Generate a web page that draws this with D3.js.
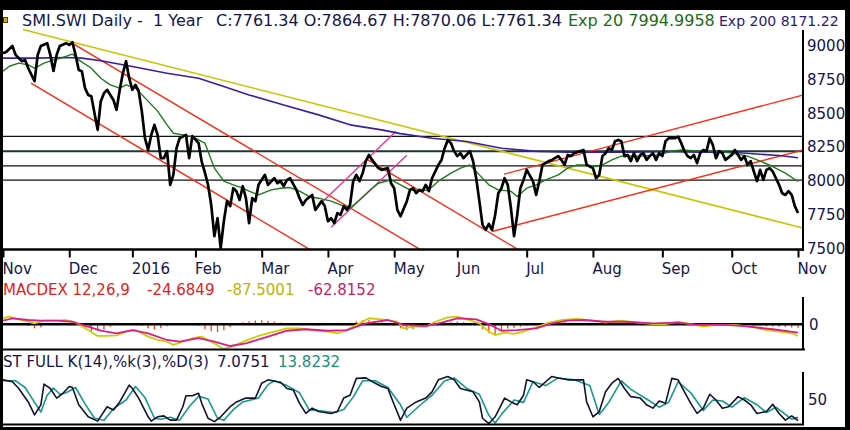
<!DOCTYPE html>
<html>
<head>
<meta charset="utf-8">
<script src="https://cdn.jsdelivr.net/npm/d3@7"></script>
<style>
  html, body { margin: 0; padding: 0; background: #000; }
  svg { display: block; font-family: "DejaVu Sans", sans-serif; }
  text { white-space: pre; }
</style>
</head>
<body>
<svg id="chart" width="850" height="430"></svg>
<script>
// ----- DATA -----
// SIX holidays in the period (weekdays with no session)
const holidays = ["2015-12-24", "2015-12-25", "2015-12-31", "2016-01-01", "2016-03-25",
  "2016-03-28", "2016-05-05", "2016-05-16", "2016-08-01"];
const monthLabels = ["Nov", "Dec", "2016", "Feb", "Mar", "Apr", "May", "Jun", "Jul", "Aug", "Sep", "Oct", "Nov"];
const priceTicks = [7500, 7750, 8000, 8250, 8500, 8750, 9000];
const levels = [8330, 8220, 8110, 8005];

// [session number, value]  (session 0 = 2 Nov 2015)
const close = [[0,8947],[1,8955],[3,9000],[4,8934],[6,8887],[7,8897],[8,8835],[10,8739],[11,8934],[12,9000],[14,9021],[15,8934],[16,8815],[17,8934],[18,9000],[20,9021],[21,9008],[22,9028],[23,8934],[24,8822],[25,8813],[26,8687],[27,8637],[28,8628],[29,8502],[30,8378],[31,8591],[32,8650],[33,8675],[35,8600],[36,8526],[37,8675],[38,8798],[39,8887],[40,8761],[41,8675],[42,8712],[43,8665],[44,8517],[45,8316],[46,8229],[47,8341],[48,8415],[49,8341],[50,8168],[51,8168],[52,8220],[53,7970],[54,8044],[55,8242],[56,8316],[58,8341],[59,8168],[60,8331],[62,8279],[63,8140],[64,8060],[65,7970],[66,7821],[67,7589],[68,7723],[69,7500],[70,7700],[71,7849],[72,7812],[73,7945],[74,7923],[75,7858],[76,7960],[77,7871],[78,7686],[79,7871],[80,7849],[81,7970],[83,8044],[84,7970],[86,8019],[87,7982],[88,7997],[89,7960],[90,8007],[91,8019],[93,7933],[94,7871],[95,7821],[96,7858],[98,7895],[99,7784],[101,7849],[102,7812],[103,7700],[104,7723],[105,7686],[106,7760],[107,7747],[108,7812],[109,7784],[110,7821],[111,7997],[112,8044],[113,7997],[114,8057],[115,8146],[116,8192],[117,8155],[119,8094],[120,8081],[122,8094],[123,7982],[124,7945],[125,7784],[126,7737],[128,7849],[129,7933],[130,7945],[131,7908],[132,7933],[133,7923],[134,7970],[135,7923],[136,8019],[138,8118],[139,8155],[140,8242],[141,8303],[142,8279],[143,8220],[144,8183],[145,8205],[146,8168],[148,8220],[149,8146],[150,8019],[151,7849],[152,7673],[153,7636],[154,7680],[155,7636],[156,7747],[157,7908],[158,7945],[159,8019],[160,7970],[161,7797],[162,7589],[163,7747],[164,7945],[165,8007],[166,8081],[168,7997],[169,7895],[170,7997],[171,8118],[173,8146],[174,8155],[176,8183],[177,8155],[178,8118],[179,8192],[180,8183],[181,8205],[183,8220],[184,8229],[185,8118],[187,8094],[188,8019],[189,8044],[190,8183],[191,8205],[192,8242],[193,8229],[194,8294],[195,8303],[196,8294],[197,8183],[198,8192],[199,8146],[200,8205],[201,8146],[202,8192],[203,8205],[204,8155],[205,8183],[206,8205],[207,8155],[208,8205],[209,8183],[210,8294],[211,8316],[213,8316],[214,8328],[215,8279],[216,8220],[217,8183],[218,8168],[219,8192],[220,8131],[221,8205],[222,8229],[223,8220],[224,8316],[225,8266],[226,8168],[227,8220],[228,8205],[229,8155],[231,8192],[232,8229],[233,8192],[234,8155],[235,8183],[236,8118],[237,8146],[238,8069],[239,7997],[240,8081],[241,8007],[242,8081],[243,8094],[244,8069],[245,8019],[246,7970],[247,7908],[248,7895],[249,7923],[250,7895],[251,7812],[252,7761]];

const exp20 = [[0,8813],[2,8850],[5,8873],[8,8860],[10,8835],[13,8873],[16,8897],[19,8915],[22,8940],[24,8897],[28,8835],[31,8761],[34,8712],[37,8687],[39,8712],[42,8687],[46,8591],[49,8517],[52,8415],[54,8353],[57,8341],[60,8328],[62,8303],[64,8279],[65,8220],[67,8094],[70,7997],[73,7970],[76,7945],[78,7923],[81,7895],[85,7933],[88,7945],[91,7950],[94,7923],[97,7884],[100,7871],[104,7849],[107,7821],[110,7797],[113,7858],[116,7923],[119,7982],[123,8007],[126,7970],[129,7933],[132,7923],[135,7933],[138,7997],[142,8057],[145,8094],[148,8118],[151,8044],[154,7970],[157,7933],[161,7923],[163,7884],[166,7945],[169,7970],[172,8007],[176,8044],[179,8094],[182,8118],[185,8118],[188,8106],[190,8118],[193,8155],[196,8183],[202,8183],[208,8192],[212,8220],[215,8229],[221,8220],[226,8220],[231,8205],[236,8183],[240,8146],[244,8106],[248,8057],[252,7995]];

const exp200 = [[0,8910],[10,8910],[20,8915],[25,8910],[31,8890],[41,8848],[52,8798],[62,8761],[70,8700],[78,8637],[89,8563],[100,8489],[110,8415],[120,8378],[126,8350],[136,8316],[147,8291],[158,8242],[168,8220],[179,8212],[190,8212],[200,8212],[210,8217],[221,8212],[231,8212],[240,8197],[246,8188],[252,8171]];

// drawn trend lines: [[session, value], [session, value]]
const yellowLine = [[6.3, 9123], [253.5, 7650]];
const redLines = [
  [[21.9, 9021], [133, 7480]],
  [[8.9, 8724], [98, 7480]],
  [[115.7, 8155], [164, 7480]],
  [[155, 7624], [253.5, 8228]],
  [[158.8, 8049], [253.5, 8636]]
];
const magentaLines = [
  [[101.1, 7841], [124.6, 8368]],
  [[104, 7656], [128, 8190]]
];

// MACD 12,26,9
const macd = [[0,45],[2,57],[5,37],[10,7],[13,27],[17,27],[20,32],[23,12],[27,-43],[30,-87],[33,-87],[36,-82],[39,-55],[42,-43],[46,-92],[49,-117],[52,-130],[54,-154],[57,-130],[60,-104],[63,-92],[66,-130],[70,-184],[73,-162],[77,-122],[81,-87],[86,-55],[90,-30],[94,-30],[98,-43],[103,-55],[106,-67],[109,-43],[113,7],[116,45],[120,37],[125,19],[127,-30],[130,-18],[134,-18],[137,19],[141,52],[144,57],[147,37],[151,7],[154,-55],[156,-80],[159,-63],[162,-72],[165,-55],[169,-22],[173,12],[177,32],[182,40],[187,27],[191,12],[195,27],[199,19],[206,2],[210,2],[214,19],[218,2],[222,-18],[226,-5],[232,-5],[237,-18],[242,-43],[246,-55],[250,-67],[252,-87.5]];
const signal = [[0,27],[3,45],[8,32],[12,27],[17,27],[22,19],[27,-18],[31,-48],[36,-67],[41,-43],[46,-67],[52,-117],[56,-130],[62,-104],[67,-130],[72,-162],[77,-142],[84,-92],[90,-48],[96,-37],[103,-48],[109,-43],[115,7],[122,32],[127,-5],[134,-13],[139,12],[144,45],[150,37],[154,2],[158,-48],[163,-43],[169,-30],[174,7],[179,27],[184,32],[191,19],[197,19],[206,7],[214,12],[220,-5],[229,-5],[235,-13],[244,-37],[252,-62.8]];
// histogram, one value every 2nd session starting at session 0
const histogram = [5,4,1,-3,-12,-30,-22,-5,2,4,4,1,-12,-35,-52,-50,-38,-18,-6,4,9,5,-10,-30,-38,-30,-15,-4,6,8,3,-12,-35,-50,-58,-45,-20,5,15,22,28,30,26,20,12,5,0,-4,-6,-8,-10,-7,-3,-6,3,10,22,30,30,24,14,4,-10,-30,-42,-35,-15,2,8,6,12,18,20,16,8,-4,-35,-65,-72,-50,-32,-26,-18,-10,-4,2,10,16,18,14,10,6,4,2,-2,-4,2,5,4,0,-3,-2,2,3,0,-3,2,5,3,-2,-6,-8,-4,0,2,0,-2,-4,-6,-9,-12,-15,-17,-19,-21,-23,-25];

// Full stochastic 14,3,3
const stochK = [[0,92],[3,88],[5,74],[8,46],[10,19],[12,40],[13,83],[15,74],[17,54],[19,64],[21,78],[22,76],[24,40],[27,15],[30,6],[33,36],[35,29],[37,46],[40,81],[41,74],[43,54],[46,15],[47,6],[49,15],[51,17],[53,8],[55,8],[57,36],[58,59],[60,59],[62,64],[63,43],[65,12],[67,5],[69,15],[72,36],[74,46],[77,54],[80,54],[82,85],[84,92],[87,88],[88,87],[90,74],[92,71],[94,43],[96,22],[98,33],[100,26],[104,22],[106,26],[108,54],[110,60],[112,95],[115,96],[118,85],[120,78],[122,74],[124,40],[126,8],[128,33],[131,46],[134,54],[136,67],[138,92],[141,99],[143,92],[145,74],[149,67],[151,46],[152,12],[154,1],[156,15],[159,54],[161,46],[163,40],[165,60],[166,92],[168,88],[170,76],[172,88],[174,99],[176,96],[179,92],[181,92],[184,92],[185,46],[187,15],[189,26],[191,67],[193,85],[195,95],[197,74],[199,57],[202,54],[204,40],[206,33],[208,48],[210,43],[212,95],[214,92],[216,67],[218,43],[220,22],[222,33],[224,62],[226,50],[228,33],[230,36],[233,57],[235,50],[237,40],[239,22],[242,26],[244,41],[246,22],[248,8],[250,17],[252,7.1]];
const stochD = [[0,90],[4,90],[7,76],[10,45],[12,25],[14,60],[16,75],[18,62],[20,65],[23,76],[26,42],[29,12],[32,8],[35,32],[39,50],[42,78],[45,55],[48,12],[50,10],[53,14],[56,8],[59,36],[62,58],[65,52],[68,12],[70,8],[73,30],[76,46],[81,54],[84,82],[86,90],[90,80],[94,65],[97,30],[100,28],[105,24],[108,30],[111,56],[114,90],[118,90],[122,76],[126,40],[128,14],[132,38],[136,60],[140,90],[143,96],[147,74],[151,62],[154,18],[156,2],[158,20],[162,50],[165,45],[168,88],[172,80],[176,96],[181,92],[186,80],[189,20],[192,45],[196,90],[199,72],[204,52],[208,35],[211,45],[214,88],[218,65],[222,28],[225,50],[228,48],[231,35],[235,55],[239,40],[242,24],[245,35],[248,20],[250,10],[252,13.8]];

// ----- CALENDAR -----
const fmt = d3.timeFormat("%Y-%m-%d");
const sessions = d3.timeDay.range(new Date(2015, 10, 2), new Date(2016, 10, 2))
  .filter(d => d.getDay() !== 0 && d.getDay() !== 6 && !holidays.includes(fmt(d)));
const monthStarts = sessions.map((d, i) => i)
  .filter(i => i === 0 || sessions[i].getMonth() !== sessions[i - 1].getMonth());

// ----- SCALES -----
const x = d3.scaleLinear().domain([0, sessions.length - 1]).range([3, 798]);
const yP = d3.scaleLinear().domain([7500, 9000]).range([248.2, 46]);
const yM = d3.scaleLinear().domain([-100, 100]).range([337.7, 310.9]);
const yS = d3.scaleLinear().domain([0, 100]).range([424, 376]);

const svg = d3.select("#chart");
svg.append("rect").attr("x", 3).attr("y", 10).attr("width", 842).attr("height", 417).attr("fill", "#fff");

const defs = svg.append("defs");
function clip(id, y0, y1) {
  defs.append("clipPath").attr("id", id)
    .append("rect").attr("x", 3).attr("y", y0).attr("width", 800).attr("height", y1 - y0);
  return `url(#${id})`;
}

function drawLine(g, data, yScale, color, width) {
  g.append("path")
    .datum(data)
    .attr("fill", "none")
    .attr("stroke", color)
    .attr("stroke-width", width)
    .attr("stroke-linejoin", "round")
    .attr("d", d3.line().x(d => x(d[0])).y(d => yScale(d[1])));
}

function styleAxisText(g) {
  g.select(".domain").remove();
  g.selectAll(".tick text")
    .attr("fill", "#15154a")
    .style("font-size", "15px")
    .style("font-family", "DejaVu Sans");
}

// ----- PRICE PANEL -----
const pg = svg.append("g").attr("clip-path", clip("cp", 28, 249));

pg.selectAll("line.level")
  .data(levels)
  .join("line")
    .attr("x1", 3).attr("x2", 803)
    .attr("y1", d => yP(d)).attr("y2", d => yP(d))
    .attr("stroke", (d, i) => i === 1 ? "#1d3535" : "#111")
    .attr("stroke-width", (d, i) => i === 1 ? 2 : 1.3);

drawLine(pg, yellowLine, yP, "#c9c500", 1.6);
redLines.forEach(l => drawLine(pg, l, yP, "#ff2a14", 1.4));
magentaLines.forEach(l => drawLine(pg, l, yP, "#e8309a", 1.3));
drawLine(pg, exp200, yP, "#3a1f9c", 1.6);
drawLine(pg, exp20, yP, "#1c7a1c", 1.4);
drawLine(pg, close, yP, "#000", 2.7);

// x axis
const xAxis = svg.append("g")
  .attr("transform", "translate(0,249.5)")
  .call(d3.axisBottom(x).tickValues(monthStarts).tickFormat((d, i) => monthLabels[i]).tickSize(8).tickPadding(6));
styleAxisText(xAxis);
xAxis.selectAll(".tick line").attr("stroke", "#000").attr("stroke-width", 2);
xAxis.selectAll(".tick text").attr("text-anchor", "start").attr("x", -1);
svg.append("line").attr("x1", 3).attr("x2", 804).attr("y1", 249.5).attr("y2", 249.5)
  .attr("stroke", "#000").attr("stroke-width", 2.5);

// price axis
const pAxis = svg.append("g")
  .attr("transform", "translate(803,0)")
  .call(d3.axisRight(yP).tickValues(priceTicks).tickFormat(d3.format("d")).tickSize(0).tickPadding(4));
styleAxisText(pAxis);
svg.append("line").attr("x1", 803).attr("x2", 803).attr("y1", 30).attr("y2", 251)
  .attr("stroke", "#000").attr("stroke-width", 2);

// ----- MACD PANEL -----
const mg = svg.append("g").attr("clip-path", clip("cm", 297, 349));
mg.selectAll("line.hist")
  .data(histogram)
  .join("line")
    .attr("x1", (d, i) => x(i * 2)).attr("x2", (d, i) => x(i * 2))
    .attr("y1", yM(0)).attr("y2", d => yM(d))
    .attr("stroke", "#ff3a1a").attr("stroke-width", 1.3);
mg.append("line").attr("x1", 3).attr("x2", 803).attr("y1", yM(0)).attr("y2", yM(0))
  .attr("stroke", "#000").attr("stroke-width", 2.5);
drawLine(mg, macd, yM, "#c8d000", 1.8);
drawLine(mg, signal, yM, "#dc1c8c", 1.8);

const mAxis = svg.append("g")
  .attr("transform", "translate(803,0)")
  .call(d3.axisRight(yM).tickValues([0]).tickSize(0).tickPadding(6));
styleAxisText(mAxis);
svg.append("line").attr("x1", 803).attr("x2", 803).attr("y1", 297).attr("y2", 350)
  .attr("stroke", "#000").attr("stroke-width", 2);
svg.append("line").attr("x1", 3).attr("x2", 805).attr("y1", 349.5).attr("y2", 349.5)
  .attr("stroke", "#000").attr("stroke-width", 2.2);

const macdLabel = svg.append("text").attr("x", 3).attr("y", 295).style("font-size", "15px");
macdLabel.append("tspan").attr("fill", "#e8201a").text("MACDEX 12,26,9");
macdLabel.append("tspan").attr("x", 147).attr("fill", "#e8201a").text("-24.6849");
macdLabel.append("tspan").attr("x", 227).attr("fill", "#b9b600").text("-87.5001");
macdLabel.append("tspan").attr("x", 308).attr("fill", "#c81a6e").text("-62.8152");

// ----- STOCHASTIC PANEL -----
const sg = svg.append("g").attr("clip-path", clip("cs", 370, 425));
drawLine(sg, stochD, yS, "#14998a", 1.6);
drawLine(sg, stochK, yS, "#12122e", 1.6);

const sAxis = svg.append("g")
  .attr("transform", "translate(803,0)")
  .call(d3.axisRight(yS).tickValues([50]).tickSize(0).tickPadding(5));
styleAxisText(sAxis);
svg.append("line").attr("x1", 803).attr("x2", 803).attr("y1", 372).attr("y2", 425)
  .attr("stroke", "#000").attr("stroke-width", 2);
svg.append("line").attr("x1", 3).attr("x2", 804).attr("y1", 424.5).attr("y2", 424.5)
  .attr("stroke", "#000").attr("stroke-width", 2);

const stLabel = svg.append("text").attr("x", 3).attr("y", 367).style("font-size", "15px");
stLabel.append("tspan").attr("fill", "#15154a").text("ST FULL K(14),%k(3),%D(3)");
stLabel.append("tspan").attr("x", 217).attr("fill", "#15154a").text("7.0751");
stLabel.append("tspan").attr("x", 278).attr("fill", "#14907f").text("13.8232");

// ----- TITLE -----
svg.append("rect").attr("x", 3.5).attr("y", 17.5).attr("width", 4).attr("height", 5)
  .attr("fill", "#c8b020").attr("stroke", "#554400").attr("stroke-width", 1);
const title = svg.append("text").attr("x", 22).attr("y", 26).style("font-size", "16px");
title.append("tspan").attr("fill", "#15154a").text("SMI.SWI Daily -  1 Year");
title.append("tspan").attr("x", 216).attr("fill", "#15154a").text("C:7761.34 O:7864.67 H:7870.06 L:7761.34");
title.append("tspan").attr("x", 568).attr("fill", "#1a6a1a").text("Exp 20 7994.9958");
// last block a bit smaller so it ends inside the frame
svg.append("text").attr("x", 719).attr("y", 26).style("font-size", "14px")
  .attr("fill", "#2e1a72")
  .text("Exp 200 8171.22");

svg.append("rect").attr("x", 845).attr("y", 0).attr("width", 5).attr("height", 430).attr("fill", "#000");
</script>
</body>
</html>
